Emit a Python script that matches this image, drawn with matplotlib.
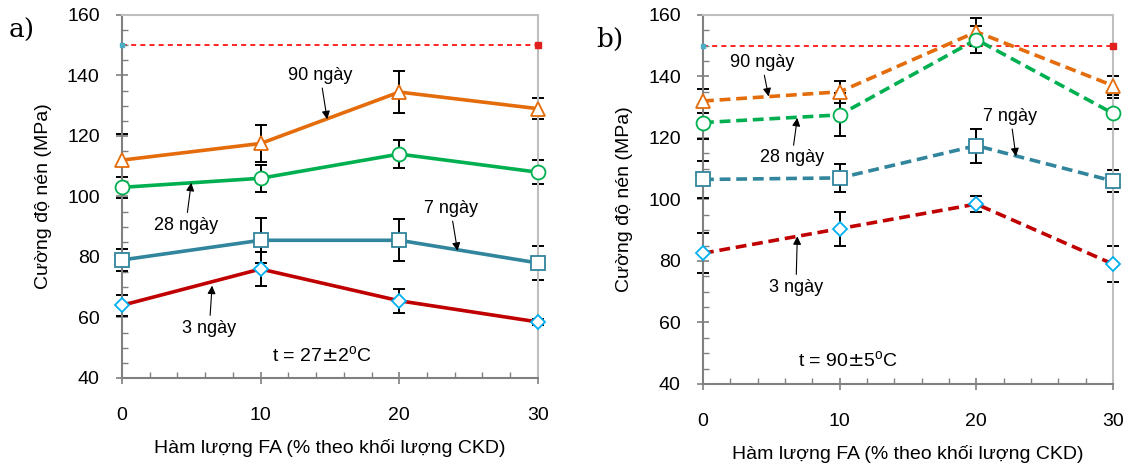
import numpy as np
import matplotlib
matplotlib.use("Agg")
import matplotlib.pyplot as plt
from matplotlib.ticker import MultipleLocator

plt.rcParams['font.family'] = ['Liberation Sans', 'DejaVu Sans']

fa = [0, 10, 20, 30]

# a) t = 27 +- 2 oC
a_3 = [64, 76, 65.5, 58.5]
a_3_err = [3.5, 5.5, 4, 1]
a_7 = [79, 85.5, 85.5, 78]
a_7_err = [3.5, 7.5, 7, 5.5]
a_28 = [103, 106, 114, 108]
a_28_err = [3.5, 4.5, 4.5, 4]
a_90 = [112, 117.5, 134.5, 129]
a_90_err = [8.5, 6, 7, 3.5]

# b) t = 90 +- 5 oC
b_3 = [82.5, 90.5, 98.5, 79]
b_3_err = [6.5, 5.5, 2.5, 6]
b_7 = [106.5, 107, 117.5, 106]
b_7_err = [6, 4.5, 5.5, 3.5]
b_28 = [125, 127.5, 152, 128]
b_28_err = [5.5, 7, 4.5, 5]
b_90 = [132, 135, 154.5, 137]
b_90_err = [4, 3.5, 4.5, 3]

limit = [150, 150]

c_orange = '#E46C0A'
c_green = '#00B050'
c_teal = '#31859C'
c_red = '#C00000'
c_cyan = '#00B0F0'

fig = plt.figure(figsize=(11.29, 4.66), dpi=100)
axA = fig.add_axes([0.108, 0.189, 0.3685, 0.779])
axB = fig.add_axes([0.6227, 0.176, 0.3631, 0.792])


def draw(ax, series, ls):
    for y, err, col, mk, mec in series:
        eb = ax.errorbar(fa, y, yerr=err, fmt='none', ecolor='black', elinewidth=1.4,
                         capsize=4, capthick=1.4, zorder=2)
        for art in eb.lines[1] + eb.lines[2]:
            art.set_clip_on(False)
        ax.plot(fa, y, color=col, lw=2.6, ls=ls, marker=mk, ms=10 if mk != 'D' else 7,
                mfc='white', mec=mec, mew=1.3, zorder=3, clip_on=False,
                dashes=(3, 1.6) if ls == '--' else (None, None))
    ax.plot([0, 30], limit, color='red', lw=1.2, ls=(0, (3, 2.5)), zorder=1)
    ax.plot([0], [150], marker='s', ms=3, color='#4BACC6', zorder=4, clip_on=False)
    ax.plot([30], [150], marker='s', ms=4, color='#E0201E', zorder=4, clip_on=False)

    ax.set_xlim(0, 30)
    ax.set_ylim(40, 160)
    ax.xaxis.set_major_locator(MultipleLocator(10))
    ax.xaxis.set_minor_locator(MultipleLocator(2))
    ax.yaxis.set_major_locator(MultipleLocator(20))
    ax.yaxis.set_minor_locator(MultipleLocator(5))
    ax.tick_params(axis='y', which='major', direction='inout', length=8, width=1.2,
                   color='#808080', labelsize=14, pad=12)
    ax.tick_params(axis='y', which='minor', direction='in', length=4, width=1,
                   color='#808080')
    ax.tick_params(axis='x', which='major', direction='inout', length=8, width=1.2,
                   color='#808080', labelsize=14, pad=17)
    ax.tick_params(axis='x', which='minor', direction='in', length=4, width=1,
                   color='#808080')
    for s in ['left', 'bottom']:
        ax.spines[s].set_color('#808080')
        ax.spines[s].set_linewidth(1.5)
    for s in ['top', 'right']:
        ax.spines[s].set_color('#BFBFBF')
        ax.spines[s].set_linewidth(1.5)
    ax.set_ylabel('Cường độ nén (MPa)', fontsize=14, labelpad=11)
    ax.set_xlabel('Hàm lượng FA (% theo khối lượng CKD)', fontsize=14, labelpad=11)


def note(ax, txt, xy, xytext):
    ax.annotate(txt, xy=xy, xytext=xytext, fontsize=13, ha='center', va='center',
                arrowprops=dict(arrowstyle='-|>', color='black', lw=0.8,
                                mutation_scale=12, shrinkA=1, shrinkB=0))


draw(axA, [(a_90, a_90_err, c_orange, '^', c_orange),
           (a_28, a_28_err, c_green, 'o', c_green),
           (a_7, a_7_err, c_teal, 's', c_teal),
           (a_3, a_3_err, c_red, 'D', c_cyan)], '-')
draw(axB, [(b_90, b_90_err, c_orange, '^', c_orange),
           (b_28, b_28_err, c_green, 'o', c_green),
           (b_7, b_7_err, c_teal, 's', c_teal),
           (b_3, b_3_err, c_red, 'D', c_cyan)], '--')

note(axA, '90 ngày', (14.8, 125.5), (14.3, 140))
note(axA, '28 ngày', (5.0, 104.5), (4.6, 90.5))
note(axA, '7 ngày', (24.2, 82), (23.7, 96))
note(axA, '3 ngày', (6.5, 70.5), (6.3, 56.5))
axA.text(14.4, 47.5, 't = 27$\\pm$2$^{\\mathregular{o}}$C', fontsize=14, ha='center', va='center')

note(axB, '90 ngày', (4.8, 133.5), (4.3, 144.5))
note(axB, '28 ngày', (6.9, 126.5), (6.5, 113.5))
note(axB, '7 ngày', (22.9, 114), (22.5, 127))
note(axB, '3 ngày', (6.9, 88), (6.8, 71.5))
axB.text(10.6, 47.5, 't = 90$\\pm$5$^{\\mathregular{o}}$C', fontsize=14, ha='center', va='center')

fig.text(0.008, 0.935, 'a)', fontsize=19, family='DejaVu Serif', va='center')
fig.text(0.528, 0.915, 'b)', fontsize=19, family='DejaVu Serif', va='center')

fig.savefig('out.png', dpi=100)
